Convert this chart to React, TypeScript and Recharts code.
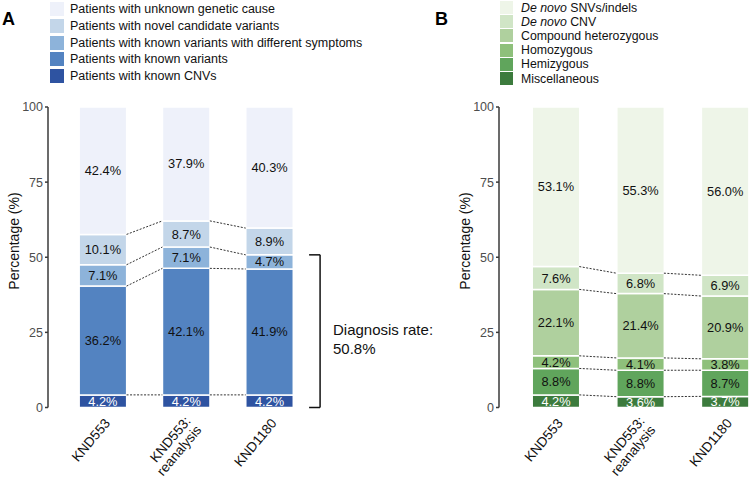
import React from 'react';
import { BarChart, Bar, XAxis, YAxis, LabelList, ReferenceLine } from 'recharts';

const categories = ['KND553', 'KND553:\nreanalysis', 'KND1180'];
const yTicks = [0, 25, 50, 75, 100];

// Panel A (stack order bottom -> top)
const knownCNVs = [4.2, 4.2, 4.2];
const knownVariants = [36.2, 42.1, 41.9];
const knownDiffSymptoms = [7.1, 7.1, 4.7];
const novelCandidate = [10.1, 8.7, 8.9];
const unknownCause = [42.4, 37.9, 40.3];
const diagnosisRate = 50.8;

// Panel B (stack order bottom -> top)
const miscellaneous = [4.2, 3.6, 3.7];
const hemizygous = [8.8, 8.8, 8.7];
const homozygous = [4.2, 4.1, 3.8];
const compoundHet = [22.1, 21.4, 20.9];
const deNovoCNV = [7.6, 6.8, 6.9];
const deNovoSNV = [53.1, 55.3, 56.0];

type Series = { key: string; label: React.ReactNode; values: number[]; color: string; text: string };

const seriesA: Series[] = [
  { key: 'cnv', label: 'Patients with known CNVs', values: knownCNVs, color: '#2e53a1', text: '#ffffff' },
  { key: 'known', label: 'Patients with known variants', values: knownVariants, color: '#5383c1', text: '#111111' },
  { key: 'diff', label: 'Patients with known variants with different symptoms', values: knownDiffSymptoms, color: '#8db3da', text: '#111111' },
  { key: 'novel', label: 'Patients with novel candidate variants', values: novelCandidate, color: '#c3d6e9', text: '#111111' },
  { key: 'unknown', label: 'Patients with unknown genetic cause', values: unknownCause, color: '#eef1fa', text: '#111111' },
];

const seriesB: Series[] = [
  { key: 'misc', label: 'Miscellaneous', values: miscellaneous, color: '#3c7b3d', text: '#ffffff' },
  { key: 'hemi', label: 'Hemizygous', values: hemizygous, color: '#60a55c', text: '#111111' },
  { key: 'homo', label: 'Homozygous', values: homozygous, color: '#8ec07b', text: '#111111' },
  { key: 'comp', label: 'Compound heterozygous', values: compoundHet, color: '#afd09e', text: '#111111' },
  { key: 'dcnv', label: <><i>De novo</i> CNV</>, values: deNovoCNV, color: '#d0e5c6', text: '#111111' },
  { key: 'dsnv', label: <><i>De novo</i> SNVs/indels</>, values: deNovoSNV, color: '#eef5e8', text: '#111111' },
];

const FONT = '"Liberation Sans", Arial, Helvetica, sans-serif';

const buildData = (series: Series[]) =>
  categories.map((c, i) => {
    const row: any = { idx: i, name: c };
    series.forEach((s) => (row[s.key] = s.values[i]));
    return row;
  });

const boundaries = (series: Series[]) => {
  const out: number[][] = [];
  let cum = categories.map(() => 0);
  series.slice(0, -1).forEach((s) => {
    cum = cum.map((c, i) => Math.round((c + s.values[i]) * 10) / 10);
    out.push(cum);
  });
  return out;
};

const XTick = (props: any) => {
  const { x, y, payload } = props;
  const lines: string[] = (categories[payload.value] || '').split('\n');
  const n = lines.length;
  return (
    <g transform={`translate(${x + 8},${y + 16})`}>
      <text transform="rotate(-50)" textAnchor="end" fontSize={13.5} fill="#111">
        {lines.map((l, j) => (
          <tspan key={j} x={0} y={(j - (n - 1) * 0.25) * 14}>
            {l}
          </tspan>
        ))}
      </text>
    </g>
  );
};

const fmt = (v: any) => `${Number(v).toFixed(1)}%`;

type PanelProps = {
  width: number;
  series: Series[];
  domain: [number, number];
  hw: number;
  marginLeft: number;
  marginRight: number;
  yWidth: number;
  bracket?: boolean;
};

function StackPanel({ width, series, domain, hw, marginLeft, marginRight, yWidth, bracket }: PanelProps) {
  const data = buildData(series);
  const bounds = boundaries(series);
  const dotted: React.ReactElement[] = [];
  bounds.forEach((b, k) => {
    for (let i = 0; i < categories.length - 1; i++) {
      dotted.push(
        <ReferenceLine
          key={`d${k}-${i}`}
          segment={[
            { x: i + hw, y: b[i] },
            { x: i + 1 - hw, y: b[i + 1] },
          ]}
          stroke="#333"
          strokeWidth={1}
          strokeDasharray="2 1.5"
          ifOverflow="visible"
        />
      );
    }
  });
  return (
    <BarChart
      width={width}
      height={487}
      data={data}
      margin={{ top: 107, right: marginRight, bottom: 0, left: marginLeft }}
    >
      <XAxis
        type="number"
        dataKey="idx"
        domain={domain}
        allowDataOverflow
        ticks={[0, 1, 2]}
        interval={0}
        axisLine={false}
        tickLine={false}
        tickSize={0}
        tickMargin={0}
        height={79.5}
        tick={<XTick />}
      />
      <YAxis
        type="number"
        domain={[0, 100]}
        ticks={yTicks}
        width={yWidth}
        axisLine={{ stroke: '#3a3a3a', strokeWidth: 1.5 }}
        tickLine={{ stroke: '#3a3a3a', strokeWidth: 1.5 }}
        tickSize={3}
        tickMargin={2}
        tick={{ fill: '#4d4d4d', fontSize: 12.5 }}
      />
      {series.map((s) => (
        <Bar
          key={s.key}
          dataKey={s.key}
          stackId="a"
          fill={s.color}
          stroke="#ffffff"
          strokeWidth={1.5}
          barSize={47.5}
          isAnimationActive={false}
        >
          <LabelList dataKey={s.key} position="center" fill={s.text} fontSize={12.8} formatter={fmt} />
        </Bar>
      ))}
      {dotted}
      {bracket && (
        <ReferenceLine
          segment={[
            { x: 2.608, y: 0 },
            { x: 2.608, y: diagnosisRate },
          ]}
          stroke="#111"
          strokeWidth={1.5}
          ifOverflow="visible"
        />
      )}
      {bracket && (
        <ReferenceLine
          segment={[
            { x: 2.476, y: diagnosisRate },
            { x: 2.608, y: diagnosisRate },
          ]}
          stroke="#111"
          strokeWidth={1.5}
          ifOverflow="visible"
        />
      )}
      {bracket && (
        <ReferenceLine
          segment={[
            { x: 2.476, y: 0 },
            { x: 2.608, y: 0 },
          ]}
          stroke="#111"
          strokeWidth={1.5}
          ifOverflow="visible"
        />
      )}
    </BarChart>
  );
}

function LegendBox({ series, left, top, pitch, size, textLeft, fontSize }: { series: Series[]; left: number; top: number; pitch: number; size: number; textLeft: number; fontSize: number }) {
  const items = [...series].reverse();
  return (
    <>
      {items.map((s, i) => (
        <div key={s.key}>
          <div
            style={{
              position: 'absolute',
              left,
              top: top + i * pitch,
              width: size,
              height: size,
              background: s.color,
            }}
          />
          <div
            style={{
              position: 'absolute',
              left: textLeft,
              top: top + i * pitch + size / 2 - 8,
              height: 16,
              lineHeight: '16px',
              fontSize,
              color: '#111',
              whiteSpace: 'nowrap',
            }}
          >
            {s.label}
          </div>
        </div>
      ))}
    </>
  );
}

export default function App() {
  return (
    <div style={{ position: 'absolute', left: 0, top: 0, width: 749, height: 487, background: '#fff', fontFamily: FONT, overflow: 'hidden' }}>
      <div style={{ position: 'absolute', left: 0, top: 0 }}>
        <StackPanel width={380} series={seriesA} domain={[-0.658, 2.667]} hw={0.285} marginLeft={0} marginRight={55} yWidth={48} bracket />
      </div>
      <div style={{ position: 'absolute', left: 380, top: 0 }}>
        <StackPanel width={369} series={seriesB} domain={[-0.668, 2.287]} hw={0.281} marginLeft={70} marginRight={0} yWidth={49} />
      </div>
      <LegendBox series={seriesA} left={50} top={2} pitch={16.8} size={14} textLeft={70} fontSize={12.5} />
      <LegendBox series={seriesB} left={500} top={1} pitch={14.2} size={13} textLeft={521} fontSize={12.3} />
      <svg width={749} height={487} style={{ position: 'absolute', left: 0, top: 0, pointerEvents: 'none' }}>
        <text x={2} y={25} fontSize={18} fontWeight="bold" fill="#000">A</text>
        <text x={435} y={25} fontSize={18} fontWeight="bold" fill="#000">B</text>
        <text transform="translate(19,241) rotate(-90)" textAnchor="middle" fontSize={14} fill="#111">Percentage (%)</text>
        <text transform="translate(470,241) rotate(-90)" textAnchor="middle" fontSize={14} fill="#111">Percentage (%)</text>
        <text x={333} y={335} fontSize={15} fill="#111">Diagnosis rate:</text>
        <text x={333} y={354} fontSize={15} fill="#111">{`${diagnosisRate.toFixed(1)}%`}</text>
      </svg>
    </div>
  );
}
